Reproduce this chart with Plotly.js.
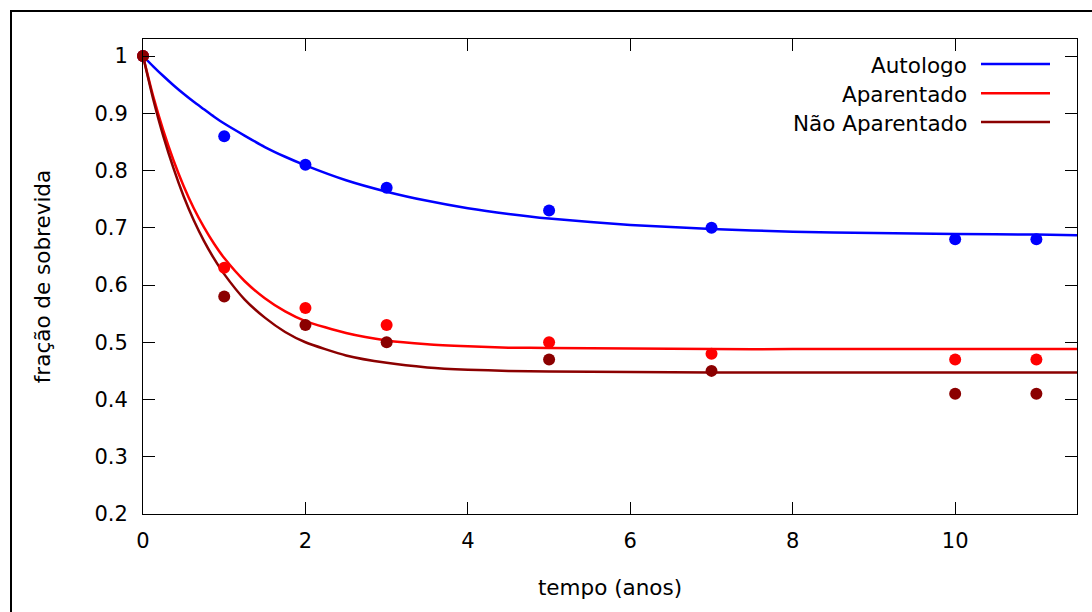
<!DOCTYPE html>
<html>
<head>
<meta charset="utf-8">
<script src="https://cdn.plot.ly/plotly-3.0.1.min.js"></script>
<style>
  html, body { margin: 0; padding: 0; background: #fff; overflow: hidden; }
  #chart { width: 1092px; height: 612px; position: absolute; left: 0; top: 0; }
  #frame { position: absolute; left: 10px; top: 10px; width: 3000px; height: 3000px;
           border: 2px solid #000; pointer-events: none; }
</style>
</head>
<body>
<div id="chart"></div>
<div id="frame"></div>
<script>
// ---- data ----
const seriesNames = ["Autologo", "Aparentado", "Não Aparentado"];
const seriesColors = ["#0000ff", "#ff0000", "#8b0000"];

const tempoAnos = [0, 1, 2, 3, 5, 7, 10, 11];
const autologo      = [1.00, 0.86, 0.81, 0.77, 0.73, 0.70, 0.68, 0.68];
const aparentado    = [1.00, 0.63, 0.56, 0.53, 0.50, 0.48, 0.47, 0.47];
const naoAparentado = [1.00, 0.58, 0.53, 0.50, 0.47, 0.45, 0.41, 0.41];

// fitted curves, values
const curveX = [0, 0.125, 0.25, 0.375, 0.5, 0.625, 0.75, 0.875, 1, 1.25, 1.5, 1.75, 2, 2.5, 3, 3.5, 4, 4.5, 5, 6, 7, 8, 9, 10, 11, 11.5];
const autologoFit      = [1.000, 0.982, 0.965, 0.949, 0.934, 0.920, 0.907, 0.894, 0.882, 0.861, 0.841, 0.824, 0.809, 0.783, 0.763, 0.747, 0.734, 0.724, 0.716, 0.705, 0.698, 0.693, 0.691, 0.689, 0.688, 0.687];
const aparentadoFit    = [1.000, 0.930, 0.870, 0.818, 0.773, 0.734, 0.701, 0.672, 0.647, 0.607, 0.577, 0.554, 0.537, 0.516, 0.503, 0.4965, 0.493, 0.4906, 0.490, 0.489, 0.488, 0.488, 0.488, 0.488, 0.488, 0.488];
const naoAparentadoFit = [1.000, 0.925, 0.860, 0.804, 0.755, 0.713, 0.677, 0.646, 0.619, 0.575, 0.543, 0.518, 0.500, 0.477, 0.464, 0.456, 0.452, 0.450, 0.449, 0.448, 0.447, 0.447, 0.447, 0.447, 0.447, 0.447];

const xTickVals = [0, 2, 4, 6, 8, 10];
const yTickVals = [0.2, 0.3, 0.4, 0.5, 0.6, 0.7, 0.8, 0.9, 1];
const yTickText = ["0.2", "0.3", "0.4", "0.5", "0.6", "0.7", "0.8", "0.9", "1"];
const xTitle = "tempo (anos)";
const yTitle = "fração de sobrevida";

// ---- traces ----
const pointSets = [autologo, aparentado, naoAparentado];
const fitSets = [autologoFit, aparentadoFit, naoAparentadoFit];
const traces = [];
for (let i = 0; i < 3; i++) {
  traces.push({
    x: curveX, y: fitSets[i], type: "scatter", mode: "lines",
    line: { color: seriesColors[i], width: 2.5, shape: "spline", smoothing: 0.6 },
    name: seriesNames[i], showlegend: false, hoverinfo: "skip"
  });
}
for (let i = 0; i < 3; i++) {
  traces.push({
    x: tempoAnos, y: pointSets[i], type: "scatter", mode: "markers",
    marker: { color: seriesColors[i], size: 12 },
    cliponaxis: false, showlegend: false, name: seriesNames[i]
  });
}

// ---- manual gnuplot-style legend (text left, line sample right) ----
const L = 143, R = 1077, T = 39, B = 514;
const px = v => (v - L) / (R - L);
const py = v => (B - v) / (B - T);
const annotations = [], shapes = [];
const legendY = [64, 93.3, 122];
for (let i = 0; i < 3; i++) {
  annotations.push({
    xref: "paper", yref: "paper", x: px(969), y: py(legendY[i] + 1.5),
    xanchor: "right", yanchor: "middle", showarrow: false,
    text: seriesNames[i], font: { family: "DejaVu Sans", size: 21.5, color: "#000" }
  });
  shapes.push({
    type: "line", xref: "paper", yref: "paper",
    x0: px(981), x1: px(1050), y0: py(legendY[i]), y1: py(legendY[i]),
    line: { color: seriesColors[i], width: 2.5 }
  });
}

const axisCommon = {
  showgrid: false, zeroline: false, showline: true, linecolor: "#000", linewidth: 1,
  mirror: "ticks", ticks: "inside", ticklen: 12, tickcolor: "#000", tickwidth: 1,
  tickfont: { family: "DejaVu Sans", size: 21, color: "#000" }
};

const layout = {
  width: 1092, height: 612,
  margin: { l: L, r: 1092 - R, t: T, b: 612 - B },
  paper_bgcolor: "#fff", plot_bgcolor: "#fff",
  showlegend: false,
  xaxis: Object.assign({}, axisCommon, {
    range: [0, 11.5], tickvals: xTickVals, ticklabelstandoff: 8,
    title: { text: xTitle, font: { family: "DejaVu Sans", size: 21.5, color: "#000" }, standoff: 27 }
  }),
  yaxis: Object.assign({}, axisCommon, {
    range: [0.2, 1.0297], tickvals: yTickVals, ticktext: yTickText, ticklabelstandoff: 10,
    title: { text: yTitle, font: { family: "DejaVu Sans", size: 21.5, color: "#000" }, standoff: 37 }
  }),
  annotations: annotations,
  shapes: shapes
};

Plotly.newPlot("chart", traces, layout, { displayModeBar: false, staticPlot: true });
</script>
</body>
</html>
